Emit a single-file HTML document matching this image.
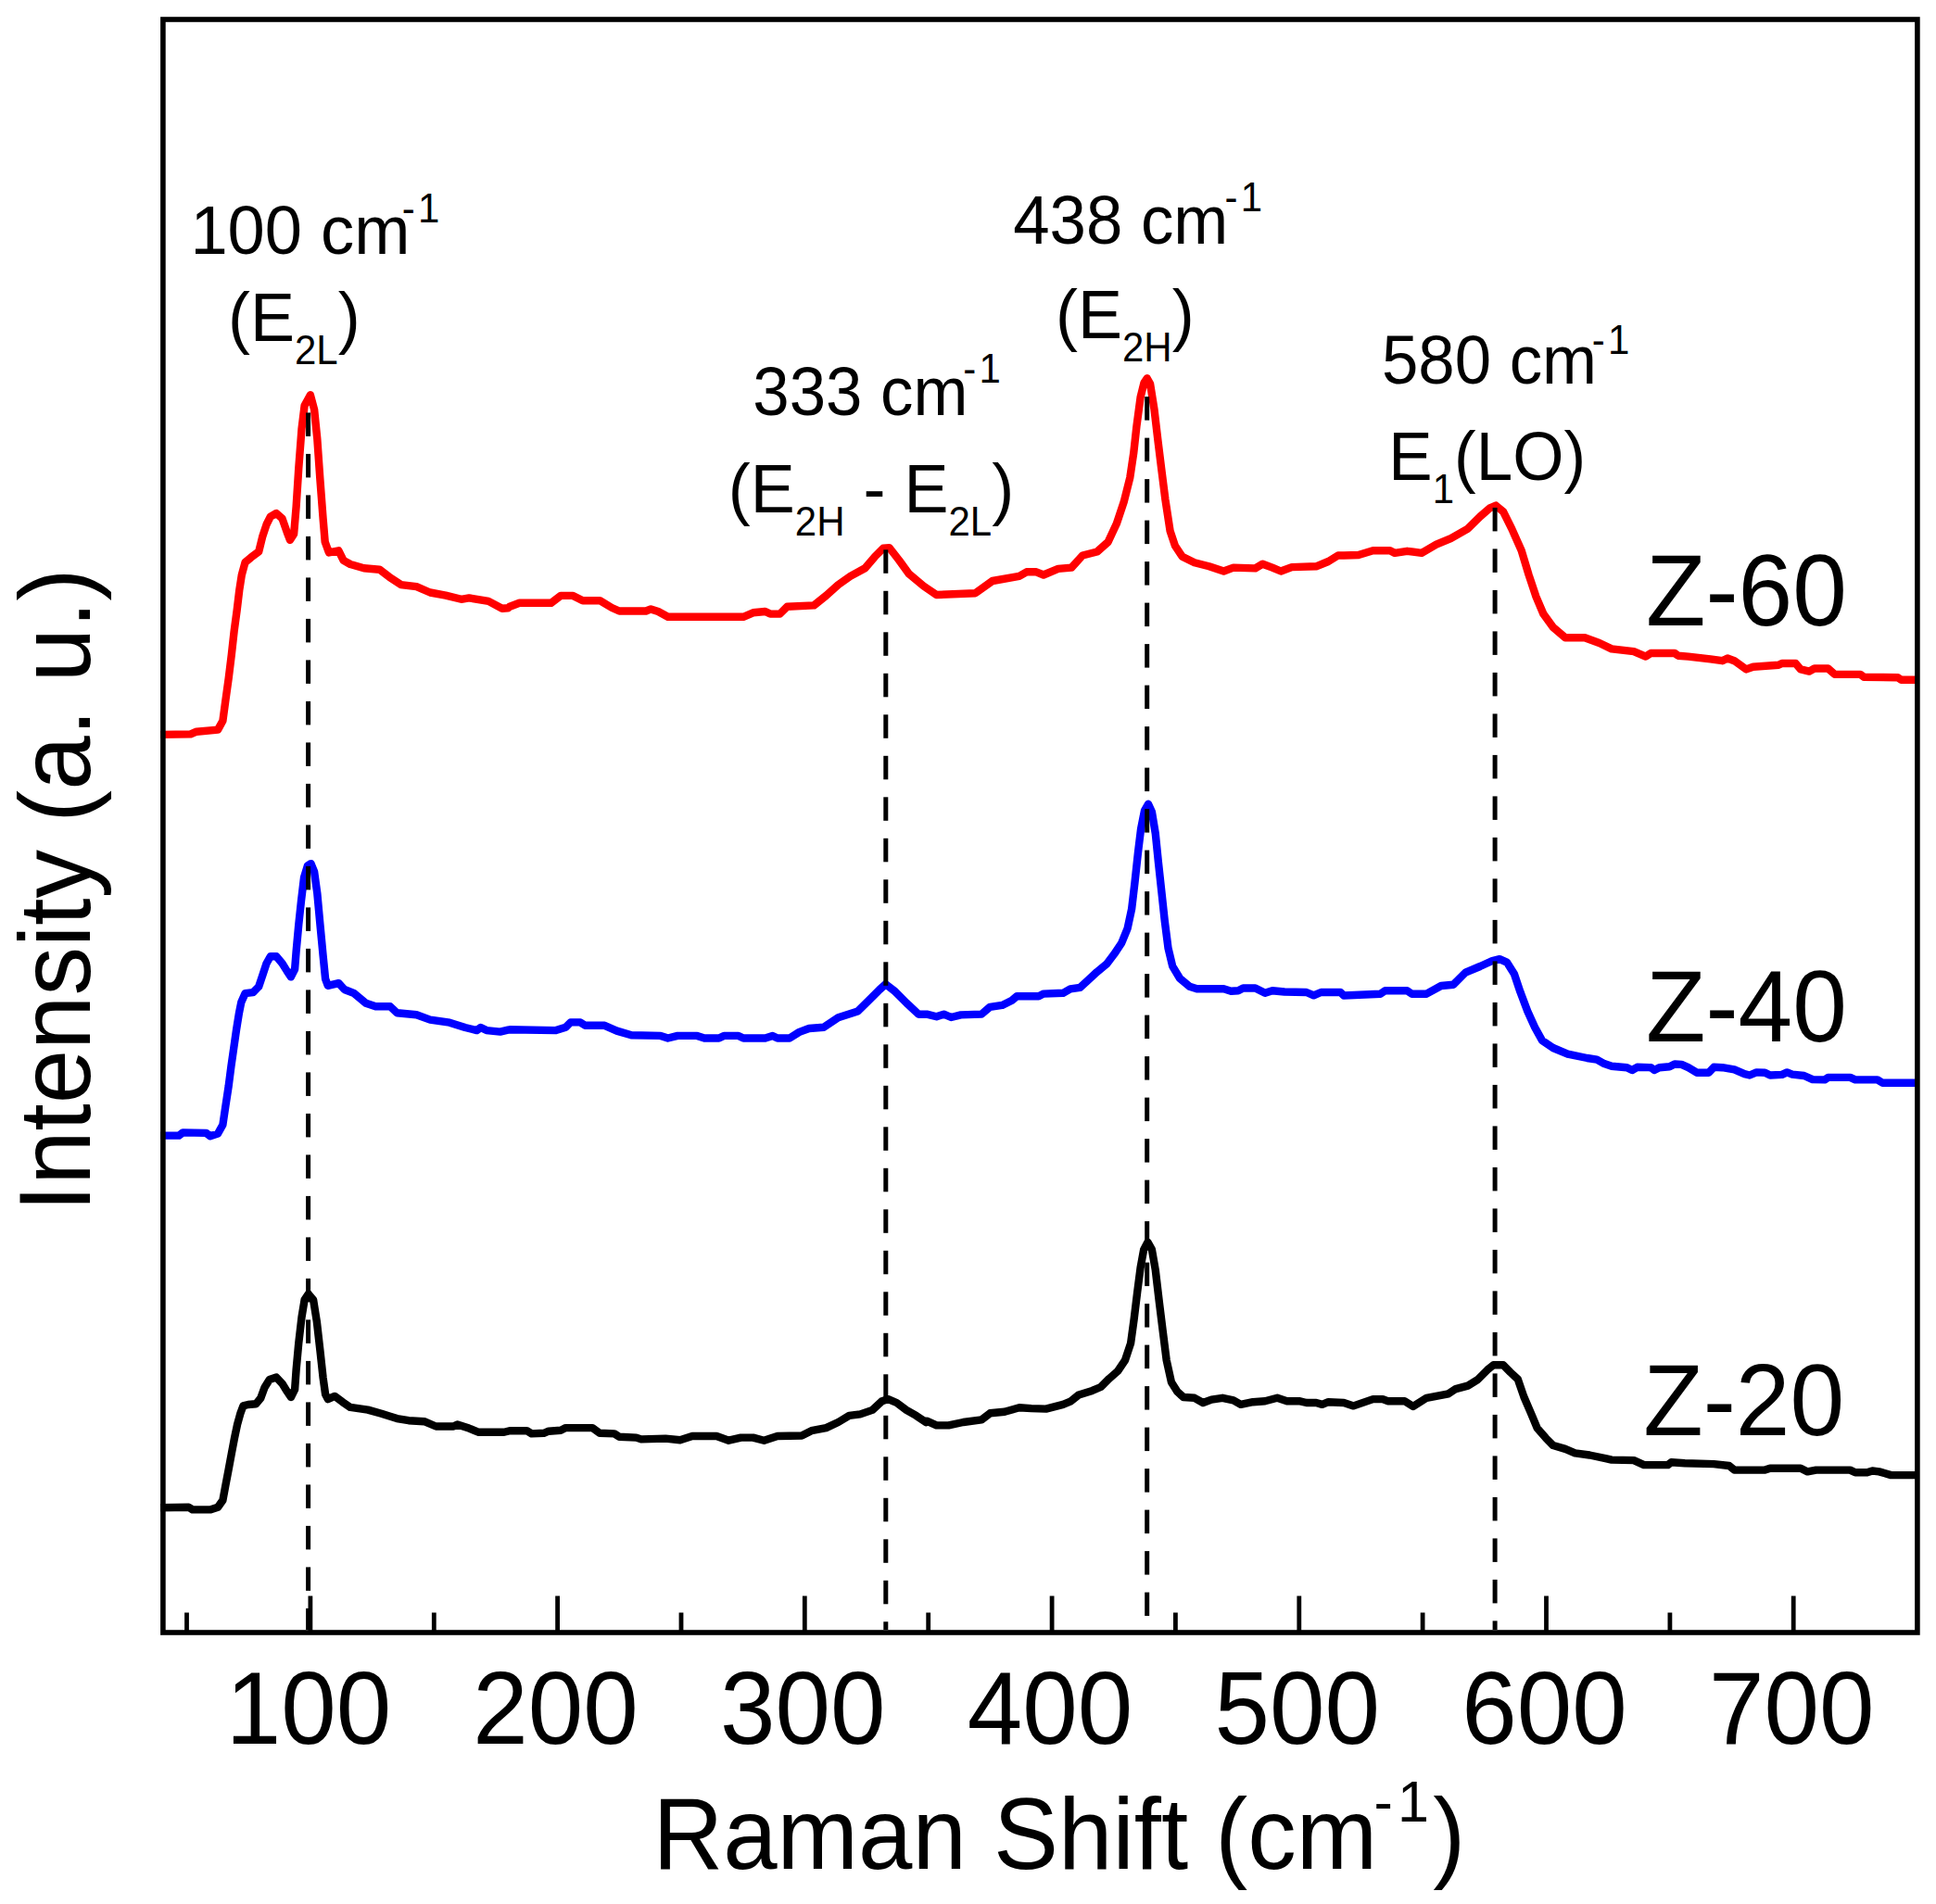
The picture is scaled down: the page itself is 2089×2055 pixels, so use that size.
<!DOCTYPE html>
<html><head><meta charset="utf-8"><title>Raman spectra</title>
<style>html,body{margin:0;padding:0;background:#fff}svg{display:block}text{font-family:"Liberation Sans", Arial, sans-serif;fill:#000}</style></head><body>
<svg width="2089" height="2055" viewBox="0 0 2089 2055">
<rect x="0" y="0" width="2089" height="2055" fill="#fff"/>
<polyline points="173.0,1627.3 203.6,1626.7 207.8,1629.4 226.7,1629.4 235.1,1626.7 240.4,1619.3 243.5,1602.5 246.7,1585.7 249.8,1568.9 253.0,1552.1 256.1,1537.4 259.3,1525.8 262.4,1517.4 267.7,1516.0 276.1,1515.3 281.3,1509.0 285.5,1497.5 290.8,1489.1 298.2,1486.6 304.5,1493.3 309.7,1501.7 313.9,1508.0 318.1,1499.6 319.6,1478.6 322.3,1449.2 325.5,1421.8 328.6,1402.9 332.8,1396.6 338.1,1402.9 341.8,1426.1 345.4,1457.6 348.6,1487.0 351.1,1504.8 353.8,1510.1 361.2,1506.9 369.6,1513.2 378.0,1518.9 396.9,1521.6 411.6,1525.8 428.4,1531.1 441.0,1533.2 457.8,1534.2 470.4,1539.5 489.3,1539.5 493.5,1537.4 506.1,1541.6 516.6,1545.8 543.9,1545.8 550.0,1544.2 568.4,1544.2 573.6,1547.4 586.8,1546.8 592.0,1544.7 605.1,1543.7 610.4,1541.1 639.3,1541.1 647.2,1546.8 662.9,1547.4 668.2,1550.8 686.6,1551.6 691.8,1553.4 718.1,1552.6 733.8,1554.2 747.0,1550.0 773.2,1550.0 786.3,1554.7 799.5,1551.6 812.6,1551.6 824.4,1554.7 838.9,1550.0 865.1,1549.5 875.6,1544.2 891.4,1541.1 904.5,1535.0 916.3,1527.9 928.2,1526.4 941.3,1521.9 951.8,1512.2 958.4,1510.1 967.5,1514.0 978.0,1521.9 988.6,1527.9 999.1,1535.0 1000.0,1533.7 1010.5,1538.4 1023.6,1538.4 1039.4,1535.0 1059.1,1532.4 1068.3,1525.3 1084.0,1523.7 1099.8,1519.3 1112.9,1520.1 1128.7,1520.6 1147.1,1515.9 1154.9,1512.7 1164.1,1505.4 1178.6,1500.9 1187.8,1497.0 1197.0,1487.8 1206.1,1479.9 1214.0,1468.1 1220.1,1449.7 1223.7,1423.4 1227.2,1394.5 1230.6,1368.3 1234.2,1348.6 1238.4,1340.7 1242.9,1348.6 1246.8,1370.9 1250.8,1405.0 1254.7,1436.6 1258.7,1468.1 1263.9,1491.7 1270.5,1502.2 1277.0,1508.0 1288.9,1508.8 1298.1,1514.0 1307.2,1510.6 1319.1,1508.8 1330.9,1511.4 1338.8,1515.9 1351.9,1513.2 1365.0,1512.2 1378.2,1508.8 1388.7,1512.2 1401.8,1512.2 1409.7,1514.0 1420.2,1514.0 1426.7,1515.9 1433.3,1513.2 1450.0,1514.0 1460.5,1517.4 1481.5,1510.1 1492.0,1510.1 1497.3,1512.2 1515.7,1512.2 1524.8,1518.0 1539.3,1508.8 1562.9,1504.3 1570.8,1499.1 1583.9,1495.6 1594.4,1489.1 1604.9,1478.6 1611.5,1473.3 1622.0,1473.3 1629.9,1481.2 1637.8,1488.6 1644.3,1507.5 1652.2,1525.8 1658.8,1541.6 1668.0,1552.1 1675.8,1560.0 1689.0,1563.9 1699.5,1568.4 1715.2,1570.5 1733.6,1574.4 1739.0,1575.6 1762.9,1576.1 1773.9,1581.1 1799.7,1581.1 1803.3,1578.3 1818.0,1579.2 1849.3,1580.1 1865.8,1582.0 1871.4,1586.6 1904.4,1586.6 1910.0,1584.7 1943.0,1584.7 1950.4,1588.4 1959.6,1586.6 1996.3,1586.6 2001.9,1589.3 2014.7,1589.3 2020.3,1587.5 2027.6,1588.4 2040.5,1592.1 2069.0,1592.1" fill="none" stroke="#000" stroke-width="8.4" stroke-linejoin="round" stroke-linecap="butt"/>
<polyline points="173.0,1225.6 193.1,1225.6 197.3,1222.4 222.5,1222.9 226.7,1226.2 235.1,1223.5 240.4,1214.0 243.5,1193.0 246.7,1172.0 249.4,1151.0 252.4,1130.0 255.1,1111.1 257.8,1094.3 260.3,1081.7 264.5,1072.2 272.9,1071.2 279.2,1064.9 283.4,1052.3 287.6,1039.7 291.8,1032.3 298.2,1032.3 304.5,1039.7 309.7,1048.1 313.9,1054.4 318.1,1046.0 319.6,1027.0 322.3,997.6 325.0,972.4 328.0,947.2 331.8,934.6 335.5,932.1 339.1,940.9 342.3,964.0 345.4,997.6 348.6,1031.3 351.1,1056.5 353.8,1063.8 365.4,1061.1 371.7,1068.0 382.2,1072.2 394.8,1082.7 405.3,1086.3 421.0,1086.3 428.4,1093.2 449.4,1095.3 464.1,1100.6 485.1,1103.7 501.9,1109.0 514.5,1112.1 518.7,1109.0 525.0,1112.1 539.7,1113.6 548.1,1111.7 550.0,1111.3 599.9,1112.1 610.4,1108.7 615.7,1103.4 626.2,1103.4 631.4,1106.8 652.4,1106.8 665.5,1112.6 681.3,1117.3 712.8,1117.9 720.7,1120.5 731.2,1117.9 752.2,1117.9 760.1,1120.5 775.8,1120.5 781.1,1117.9 796.8,1117.9 802.1,1120.5 825.7,1120.5 833.6,1117.9 838.9,1120.5 852.0,1120.5 862.5,1113.9 873.0,1110.0 888.8,1108.7 904.5,1098.2 925.5,1091.6 938.7,1078.5 949.2,1068.0 955.7,1062.2 964.9,1069.3 978.0,1082.4 991.2,1094.7 1000.0,1094.6 1010.5,1097.3 1018.4,1094.6 1026.3,1098.0 1036.8,1095.4 1059.1,1094.6 1068.3,1086.8 1081.4,1084.9 1091.9,1079.7 1097.2,1075.2 1120.8,1075.2 1126.1,1072.6 1147.1,1071.8 1154.9,1067.3 1165.4,1065.8 1173.3,1058.7 1183.8,1048.9 1194.3,1040.3 1202.2,1029.8 1210.1,1018.0 1216.6,1002.2 1221.1,981.2 1224.5,952.3 1227.9,920.8 1231.1,894.5 1235.0,874.8 1239.0,867.8 1242.9,876.2 1246.8,899.8 1250.0,931.3 1253.4,962.8 1256.8,994.3 1260.5,1023.2 1265.2,1042.9 1273.1,1056.0 1283.6,1064.7 1291.5,1067.3 1320.4,1067.3 1328.3,1069.7 1336.1,1069.2 1341.4,1066.5 1354.5,1066.5 1365.0,1071.8 1372.9,1069.2 1386.0,1070.5 1409.7,1071.0 1417.5,1074.4 1425.4,1071.0 1446.4,1071.0 1450.0,1074.5 1489.4,1072.7 1494.6,1069.3 1518.3,1069.3 1523.5,1072.7 1539.3,1072.7 1555.0,1064.0 1568.2,1062.7 1581.3,1049.6 1597.1,1043.0 1610.2,1037.0 1618.1,1035.1 1625.9,1038.6 1633.8,1050.9 1640.4,1070.6 1648.3,1091.6 1656.1,1108.7 1664.0,1123.1 1675.8,1131.0 1691.6,1137.6 1712.6,1142.0 1723.1,1143.6 1731.0,1148.1 1739.0,1150.7 1755.5,1152.2 1761.1,1155.0 1766.6,1151.8 1781.3,1152.2 1785.0,1155.0 1790.5,1152.2 1801.5,1151.3 1807.0,1148.5 1814.4,1148.9 1821.7,1152.2 1830.9,1157.7 1843.8,1157.7 1849.3,1151.8 1858.5,1152.2 1871.4,1154.4 1882.4,1159.2 1887.9,1160.5 1895.3,1157.4 1904.4,1157.7 1910.0,1160.5 1922.8,1159.9 1928.3,1157.4 1933.9,1159.6 1946.7,1161.0 1955.9,1165.1 1968.8,1165.4 1972.5,1162.9 1996.4,1162.9 2001.9,1165.4 2025.8,1165.4 2031.3,1168.8 2069.0,1168.8" fill="none" stroke="#0000ff" stroke-width="8.4" stroke-linejoin="round" stroke-linecap="butt"/>
<polyline points="173.0,792.9 205.7,792.4 212.0,789.7 235.1,787.6 240.4,778.0 243.5,755.0 246.7,732.0 249.8,706.7 252.6,681.5 255.7,658.4 258.2,637.4 260.8,620.6 264.5,607.0 270.8,601.7 279.2,595.4 283.4,578.6 287.6,566.0 291.8,557.6 298.2,554.0 304.5,559.7 309.7,574.4 312.9,582.8 317.1,576.5 319.6,547.0 322.3,505.0 325.5,463.0 328.6,437.8 334.9,426.3 339.1,442.0 342.3,473.5 345.4,517.6 348.6,559.7 350.7,584.9 354.9,596.4 365.4,594.3 370.6,604.8 378.0,609.0 392.7,613.2 409.5,614.7 420.0,622.7 432.6,631.1 449.4,633.2 464.1,639.5 480.9,642.6 497.7,646.8 506.1,645.4 527.1,648.9 541.8,656.7 548.2,656.3 550.0,654.7 560.5,650.8 594.6,650.8 605.1,642.9 618.3,642.9 628.8,648.2 647.2,648.2 660.3,656.0 668.2,659.5 697.0,659.5 702.3,657.4 710.2,660.0 720.7,665.8 802.1,665.8 812.6,661.3 825.7,660.0 831.0,662.6 841.5,662.6 849.4,654.7 878.3,653.4 891.4,642.9 904.5,631.1 917.6,621.9 933.4,613.2 943.9,600.9 953.1,591.7 959.7,591.2 970.2,604.8 980.7,619.3 996.4,632.4 1000.0,634.9 1010.5,642.0 1052.5,640.2 1070.9,627.0 1099.8,621.8 1107.7,617.3 1118.2,617.3 1126.0,620.5 1141.8,613.9 1156.2,612.6 1168.1,599.5 1183.8,595.5 1195.6,585.0 1204.8,565.3 1212.7,541.7 1219.3,515.4 1223.2,489.2 1226.4,460.3 1230.6,428.8 1234.5,413.0 1237.7,408.3 1241.1,414.3 1245.5,441.9 1249.5,476.0 1253.4,507.6 1257.4,539.1 1262.6,573.2 1267.9,589.0 1275.7,600.8 1288.9,607.3 1304.6,611.3 1320.4,616.5 1330.9,612.6 1354.5,613.4 1362.4,608.7 1372.9,612.6 1382.1,616.5 1393.9,612.1 1420.2,611.3 1433.3,606.0 1443.8,599.5 1450.0,599.5 1465.8,599.0 1481.5,594.2 1499.9,594.2 1505.1,596.9 1518.3,594.8 1534.0,596.9 1549.8,587.7 1565.5,581.1 1583.9,570.6 1597.1,557.5 1607.6,548.3 1614.1,545.6 1622.0,552.2 1631.2,570.6 1641.7,594.2 1649.6,620.5 1657.5,644.1 1665.3,662.5 1675.8,677.0 1689.0,688.2 1710.0,688.2 1725.7,694.0 1739.0,700.4 1762.9,703.1 1775.8,708.6 1781.3,705.0 1807.0,705.0 1810.7,707.7 1821.7,708.6 1845.6,711.4 1858.5,713.2 1864.0,710.5 1871.4,713.2 1884.2,722.4 1891.6,719.7 1919.1,717.8 1922.8,716.0 1937.5,716.0 1943.0,722.4 1952.2,724.6 1957.8,721.5 1972.5,721.5 1979.8,727.9 2007.4,727.9 2011.1,730.7 2047.8,731.3 2051.5,733.8 2069.0,733.8" fill="none" stroke="#ff0000" stroke-width="8.4" stroke-linejoin="round" stroke-linecap="butt"/>
<g stroke="#000" stroke-width="5" fill="none">
<line x1="332.6" y1="445.4" x2="332.6" y2="470.9"/>
<line x1="332.6" y1="489.9" x2="332.6" y2="515.4"/>
<line x1="332.6" y1="534.4" x2="332.6" y2="559.9"/>
<line x1="332.6" y1="578.9" x2="332.6" y2="604.4"/>
<line x1="332.6" y1="623.4" x2="332.6" y2="648.9"/>
<line x1="332.6" y1="667.9" x2="332.6" y2="693.4"/>
<line x1="332.6" y1="712.4" x2="332.6" y2="737.9"/>
<line x1="332.6" y1="756.9" x2="332.6" y2="782.4"/>
<line x1="332.6" y1="801.4" x2="332.6" y2="826.9"/>
<line x1="332.6" y1="845.9" x2="332.6" y2="871.4"/>
<line x1="332.6" y1="890.4" x2="332.6" y2="915.9"/>
<line x1="332.6" y1="934.9" x2="332.6" y2="960.4"/>
<line x1="332.6" y1="979.4" x2="332.6" y2="1004.9"/>
<line x1="332.6" y1="1023.9" x2="332.6" y2="1049.4"/>
<line x1="332.6" y1="1068.4" x2="332.6" y2="1093.9"/>
<line x1="332.6" y1="1112.9" x2="332.6" y2="1138.4"/>
<line x1="332.6" y1="1157.4" x2="332.6" y2="1182.9"/>
<line x1="332.6" y1="1201.9" x2="332.6" y2="1227.4"/>
<line x1="332.6" y1="1246.4" x2="332.6" y2="1271.9"/>
<line x1="332.6" y1="1290.9" x2="332.6" y2="1316.4"/>
<line x1="332.6" y1="1335.4" x2="332.6" y2="1360.9"/>
<line x1="332.6" y1="1379.9" x2="332.6" y2="1405.4"/>
<line x1="332.6" y1="1424.4" x2="332.6" y2="1449.9"/>
<line x1="332.6" y1="1468.9" x2="332.6" y2="1494.4"/>
<line x1="332.6" y1="1513.4" x2="332.6" y2="1538.9"/>
<line x1="332.6" y1="1557.9" x2="332.6" y2="1583.4"/>
<line x1="332.6" y1="1602.4" x2="332.6" y2="1627.9"/>
<line x1="332.6" y1="1646.9" x2="332.6" y2="1672.4"/>
<line x1="332.6" y1="1691.4" x2="332.6" y2="1716.9"/>
<line x1="332.6" y1="1735.9" x2="332.6" y2="1759.0"/>
<line x1="955.8" y1="593.3" x2="955.8" y2="618.8"/>
<line x1="955.8" y1="637.8" x2="955.8" y2="663.3"/>
<line x1="955.8" y1="682.3" x2="955.8" y2="707.8"/>
<line x1="955.8" y1="726.8" x2="955.8" y2="752.3"/>
<line x1="955.8" y1="771.3" x2="955.8" y2="796.8"/>
<line x1="955.8" y1="815.8" x2="955.8" y2="841.3"/>
<line x1="955.8" y1="860.3" x2="955.8" y2="885.8"/>
<line x1="955.8" y1="904.8" x2="955.8" y2="930.3"/>
<line x1="955.8" y1="949.3" x2="955.8" y2="974.8"/>
<line x1="955.8" y1="993.8" x2="955.8" y2="1019.3"/>
<line x1="955.8" y1="1038.3" x2="955.8" y2="1063.8"/>
<line x1="955.8" y1="1082.8" x2="955.8" y2="1108.3"/>
<line x1="955.8" y1="1127.3" x2="955.8" y2="1152.8"/>
<line x1="955.8" y1="1171.8" x2="955.8" y2="1197.3"/>
<line x1="955.8" y1="1216.3" x2="955.8" y2="1241.8"/>
<line x1="955.8" y1="1260.8" x2="955.8" y2="1286.3"/>
<line x1="955.8" y1="1305.3" x2="955.8" y2="1330.8"/>
<line x1="955.8" y1="1349.8" x2="955.8" y2="1375.3"/>
<line x1="955.8" y1="1394.3" x2="955.8" y2="1419.8"/>
<line x1="955.8" y1="1438.8" x2="955.8" y2="1464.3"/>
<line x1="955.8" y1="1483.3" x2="955.8" y2="1508.8"/>
<line x1="955.8" y1="1527.8" x2="955.8" y2="1553.3"/>
<line x1="955.8" y1="1572.3" x2="955.8" y2="1597.8"/>
<line x1="955.8" y1="1616.8" x2="955.8" y2="1642.3"/>
<line x1="955.8" y1="1661.3" x2="955.8" y2="1686.8"/>
<line x1="955.8" y1="1705.8" x2="955.8" y2="1731.3"/>
<line x1="955.8" y1="1750.3" x2="955.8" y2="1759.0"/>
<line x1="1237.7" y1="428.1" x2="1237.7" y2="453.6"/>
<line x1="1237.7" y1="472.6" x2="1237.7" y2="498.1"/>
<line x1="1237.7" y1="517.1" x2="1237.7" y2="542.6"/>
<line x1="1237.7" y1="561.6" x2="1237.7" y2="587.1"/>
<line x1="1237.7" y1="606.1" x2="1237.7" y2="631.6"/>
<line x1="1237.7" y1="650.6" x2="1237.7" y2="676.1"/>
<line x1="1237.7" y1="695.1" x2="1237.7" y2="720.6"/>
<line x1="1237.7" y1="739.6" x2="1237.7" y2="765.1"/>
<line x1="1237.7" y1="784.1" x2="1237.7" y2="809.6"/>
<line x1="1237.7" y1="828.6" x2="1237.7" y2="854.1"/>
<line x1="1237.7" y1="873.1" x2="1237.7" y2="898.6"/>
<line x1="1237.7" y1="917.6" x2="1237.7" y2="943.1"/>
<line x1="1237.7" y1="962.1" x2="1237.7" y2="987.6"/>
<line x1="1237.7" y1="1006.6" x2="1237.7" y2="1032.1"/>
<line x1="1237.7" y1="1051.1" x2="1237.7" y2="1076.6"/>
<line x1="1237.7" y1="1095.6" x2="1237.7" y2="1121.1"/>
<line x1="1237.7" y1="1140.1" x2="1237.7" y2="1165.6"/>
<line x1="1237.7" y1="1184.6" x2="1237.7" y2="1210.1"/>
<line x1="1237.7" y1="1229.1" x2="1237.7" y2="1254.6"/>
<line x1="1237.7" y1="1273.6" x2="1237.7" y2="1299.1"/>
<line x1="1237.7" y1="1318.1" x2="1237.7" y2="1343.6"/>
<line x1="1237.7" y1="1362.6" x2="1237.7" y2="1388.1"/>
<line x1="1237.7" y1="1407.1" x2="1237.7" y2="1432.6"/>
<line x1="1237.7" y1="1451.6" x2="1237.7" y2="1477.1"/>
<line x1="1237.7" y1="1496.1" x2="1237.7" y2="1521.6"/>
<line x1="1237.7" y1="1540.6" x2="1237.7" y2="1566.1"/>
<line x1="1237.7" y1="1585.1" x2="1237.7" y2="1610.6"/>
<line x1="1237.7" y1="1629.6" x2="1237.7" y2="1655.1"/>
<line x1="1237.7" y1="1674.1" x2="1237.7" y2="1699.6"/>
<line x1="1237.7" y1="1718.6" x2="1237.7" y2="1744.0"/>
<line x1="1613.1" y1="547.9" x2="1613.1" y2="573.4"/>
<line x1="1613.1" y1="592.4" x2="1613.1" y2="617.9"/>
<line x1="1613.1" y1="636.9" x2="1613.1" y2="662.4"/>
<line x1="1613.1" y1="681.4" x2="1613.1" y2="706.9"/>
<line x1="1613.1" y1="725.9" x2="1613.1" y2="751.4"/>
<line x1="1613.1" y1="770.4" x2="1613.1" y2="795.9"/>
<line x1="1613.1" y1="814.9" x2="1613.1" y2="840.4"/>
<line x1="1613.1" y1="859.4" x2="1613.1" y2="884.9"/>
<line x1="1613.1" y1="903.9" x2="1613.1" y2="929.4"/>
<line x1="1613.1" y1="948.4" x2="1613.1" y2="973.9"/>
<line x1="1613.1" y1="992.9" x2="1613.1" y2="1018.4"/>
<line x1="1613.1" y1="1037.4" x2="1613.1" y2="1062.9"/>
<line x1="1613.1" y1="1081.9" x2="1613.1" y2="1107.4"/>
<line x1="1613.1" y1="1126.4" x2="1613.1" y2="1151.9"/>
<line x1="1613.1" y1="1170.9" x2="1613.1" y2="1196.4"/>
<line x1="1613.1" y1="1215.4" x2="1613.1" y2="1240.9"/>
<line x1="1613.1" y1="1259.9" x2="1613.1" y2="1285.4"/>
<line x1="1613.1" y1="1304.4" x2="1613.1" y2="1329.9"/>
<line x1="1613.1" y1="1348.9" x2="1613.1" y2="1374.4"/>
<line x1="1613.1" y1="1393.4" x2="1613.1" y2="1418.9"/>
<line x1="1613.1" y1="1437.9" x2="1613.1" y2="1463.4"/>
<line x1="1613.1" y1="1482.4" x2="1613.1" y2="1507.9"/>
<line x1="1613.1" y1="1526.9" x2="1613.1" y2="1552.4"/>
<line x1="1613.1" y1="1571.4" x2="1613.1" y2="1596.9"/>
<line x1="1613.1" y1="1615.9" x2="1613.1" y2="1641.4"/>
<line x1="1613.1" y1="1660.4" x2="1613.1" y2="1685.9"/>
<line x1="1613.1" y1="1704.9" x2="1613.1" y2="1730.4"/>
<line x1="1613.1" y1="1749.4" x2="1613.1" y2="1759.0"/>
</g>
<g stroke="#000" stroke-width="4.8" fill="none">
<line x1="201.5" y1="1762.0" x2="201.5" y2="1740.5"/>
<line x1="334.9" y1="1762.0" x2="334.9" y2="1722.5"/>
<line x1="468.3" y1="1762.0" x2="468.3" y2="1740.5"/>
<line x1="601.6" y1="1762.0" x2="601.6" y2="1722.5"/>
<line x1="735.0" y1="1762.0" x2="735.0" y2="1740.5"/>
<line x1="868.3" y1="1762.0" x2="868.3" y2="1722.5"/>
<line x1="1001.7" y1="1762.0" x2="1001.7" y2="1740.5"/>
<line x1="1135.1" y1="1762.0" x2="1135.1" y2="1722.5"/>
<line x1="1268.4" y1="1762.0" x2="1268.4" y2="1740.5"/>
<line x1="1401.8" y1="1762.0" x2="1401.8" y2="1722.5"/>
<line x1="1535.1" y1="1762.0" x2="1535.1" y2="1740.5"/>
<line x1="1668.5" y1="1762.0" x2="1668.5" y2="1722.5"/>
<line x1="1801.9" y1="1762.0" x2="1801.9" y2="1740.5"/>
<line x1="1935.2" y1="1762.0" x2="1935.2" y2="1722.5"/>
</g>
<rect x="175.9" y="21.0" width="1893.0" height="1741.0" fill="none" stroke="#000" stroke-width="5.6"/>
<text transform="translate(332.9 1881.5) scale(1 1.035)" font-size="107" text-anchor="middle">100</text>
<text transform="translate(599.6 1881.5) scale(1 1.035)" font-size="107" text-anchor="middle">200</text>
<text transform="translate(866.3 1881.5) scale(1 1.035)" font-size="107" text-anchor="middle">300</text>
<text transform="translate(1133.1 1881.5) scale(1 1.035)" font-size="107" text-anchor="middle">400</text>
<text transform="translate(1399.8 1881.5) scale(1 1.035)" font-size="107" text-anchor="middle">500</text>
<text transform="translate(1666.5 1881.5) scale(1 1.035)" font-size="107" text-anchor="middle">600</text>
<text transform="translate(1933.2 1881.5) scale(1 1.035)" font-size="107" text-anchor="middle">700</text>
<text transform="translate(704.4 2017.0) scale(1 1.035)" font-size="105">Raman Shift (cm<tspan x="778.0" y="-49.3" font-size="61">-</tspan><tspan x="803.6" y="-49.3" font-size="61">1</tspan><tspan x="841.8" y="0.0" font-size="105">)</tspan></text>
<text transform="translate(96.6 1308.0) rotate(-90) scale(1 1.035)" font-size="105">Intensity (a. u.)</text>
<text transform="translate(1776.0 674.7) scale(1 1.035)" font-size="105.5">Z-60</text>
<text transform="translate(1776.0 1124.3) scale(1 1.035)" font-size="105.5">Z-40</text>
<text transform="translate(1773.3 1548.5) scale(1 1.035)" font-size="105.5">Z-20</text>
<text transform="translate(205.4 274.1) scale(1 1.035)" font-size="72.3">100 cm<tspan x="228.3" y="-33.3" font-size="42">-</tspan><tspan x="245.5" y="-33.3" font-size="42">1</tspan></text>
<text transform="translate(246.0 368.2) scale(1 1.035)" font-size="72">(E<tspan font-size="42" dy="24.2">2L</tspan><tspan dy="-24.2">)</tspan></text>
<text transform="translate(812.3 447.6) scale(1 1.035)" font-size="70.8">333 cm<tspan x="227.0" y="-33.3" font-size="42">-</tspan><tspan x="244.2" y="-33.3" font-size="42">1</tspan></text>
<text transform="translate(785.8 552.9) scale(1 1.035)" font-size="72">(E<tspan font-size="42" dy="24.2">2H</tspan><tspan dy="-24.2"> - E</tspan><tspan font-size="42" dy="24.2">2L</tspan><tspan dy="-24.2">)</tspan></text>
<text transform="translate(1093.2 262.7) scale(1 1.035)" font-size="70.8">438 cm<tspan x="228.3" y="-33.3" font-size="42">-</tspan><tspan x="245.5" y="-33.3" font-size="42">1</tspan></text>
<text transform="translate(1139.0 364.9) scale(1 1.035)" font-size="72">(E<tspan font-size="42" dy="24.2">2H</tspan><tspan dy="-24.2">)</tspan></text>
<text transform="translate(1490.9 413.5) scale(1 1.035)" font-size="70.8">580 cm<tspan x="226.8" y="-30.7" font-size="42">-</tspan><tspan x="244.0" y="-30.7" font-size="42">1</tspan></text>
<text transform="translate(1498.3 518.4) scale(1 1.035)" font-size="71">E<tspan font-size="42" dy="24.2">1</tspan><tspan dy="-24.2">(LO)</tspan></text>
</svg></body></html>
